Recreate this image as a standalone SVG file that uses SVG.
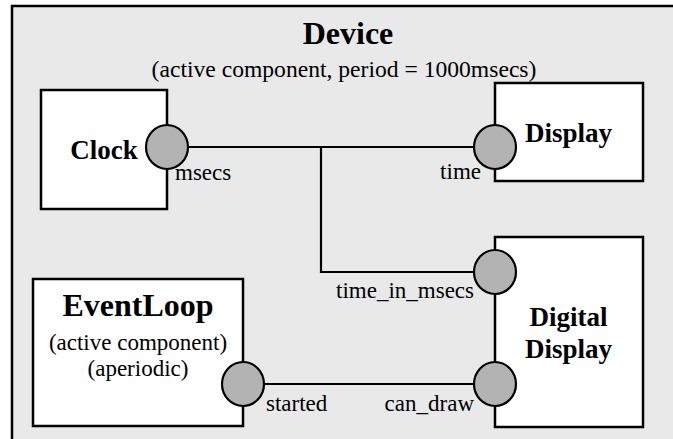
<svg xmlns="http://www.w3.org/2000/svg" width="673" height="439" viewBox="0 0 673 439">
  <style>
    .frame { fill: #e9e9e9; stroke: #000; stroke-width: 2.5; }
    .box { fill: #fff; stroke: #000; stroke-width: 2.5; }
    .port { fill: #b3b3b3; stroke: #000; stroke-width: 2.2; }
    .wire { fill: none; stroke: #000; stroke-width: 2.2; }
    .title { font-weight: bold; font-size: 27px; text-anchor: middle; }
    .big { font-weight: bold; font-size: 32px; text-anchor: middle; }
    .note { font-size: 23px; text-anchor: middle; }
    .lbl { font-size: 23px; }
    .end { text-anchor: end; }
  </style>

  <rect width="673" height="439" fill="#fff"/>

  <g font-family="'Liberation Serif', 'DejaVu Serif', serif" fill="#000">
    <!-- enclosing Device component -->
    <g id="device">
      <rect class="frame" x="12" y="6" width="700" height="500"/>
      <text class="big" x="348" y="44">Device</text>
      <text class="note" x="344" y="77" style="font-size:23.6px">(active component, period = 1000msecs)</text>
    </g>

    <!-- connectors -->
    <g id="connectors">
      <line class="wire" x1="167" y1="147" x2="495" y2="147"/>
      <polyline class="wire" points="321,147 321,272 495,272"/>
      <line class="wire" x1="243" y1="384" x2="495" y2="384"/>
    </g>

    <g id="clock">
      <rect class="box" x="41" y="90" width="126" height="119"/>
      <text class="title" x="104" y="159">Clock</text>
      <ellipse class="port" cx="167" cy="147" rx="21" ry="22"/>
      <text class="lbl" x="175" y="180">msecs</text>
    </g>

    <g id="display">
      <rect class="box" x="495" y="83" width="148" height="98"/>
      <text class="title" x="568.5" y="142">Display</text>
      <ellipse class="port" cx="495" cy="147" rx="21" ry="22"/>
      <text class="lbl end" x="481" y="179">time</text>
    </g>

    <g id="digital-display">
      <rect class="box" x="495" y="237" width="148" height="190"/>
      <text class="title" x="568.5" y="326">Digital</text>
      <text class="title" x="568.5" y="358">Display</text>
      <ellipse class="port" cx="495" cy="272" rx="21" ry="22"/>
      <text class="lbl end" x="474" y="298">time_in_msecs</text>
      <ellipse class="port" cx="495" cy="384" rx="21" ry="22"/>
      <text class="lbl end" x="474" y="411">can_draw</text>
    </g>

    <g id="event-loop">
      <rect class="box" x="33" y="279" width="210" height="147"/>
      <text class="big" x="138" y="316">EventLoop</text>
      <text class="note" x="138" y="350">(active component)</text>
      <text class="note" x="138" y="376">(aperiodic)</text>
      <ellipse class="port" cx="243" cy="384" rx="21" ry="22"/>
      <text class="lbl" x="266" y="411">started</text>
    </g>
  </g>
</svg>
